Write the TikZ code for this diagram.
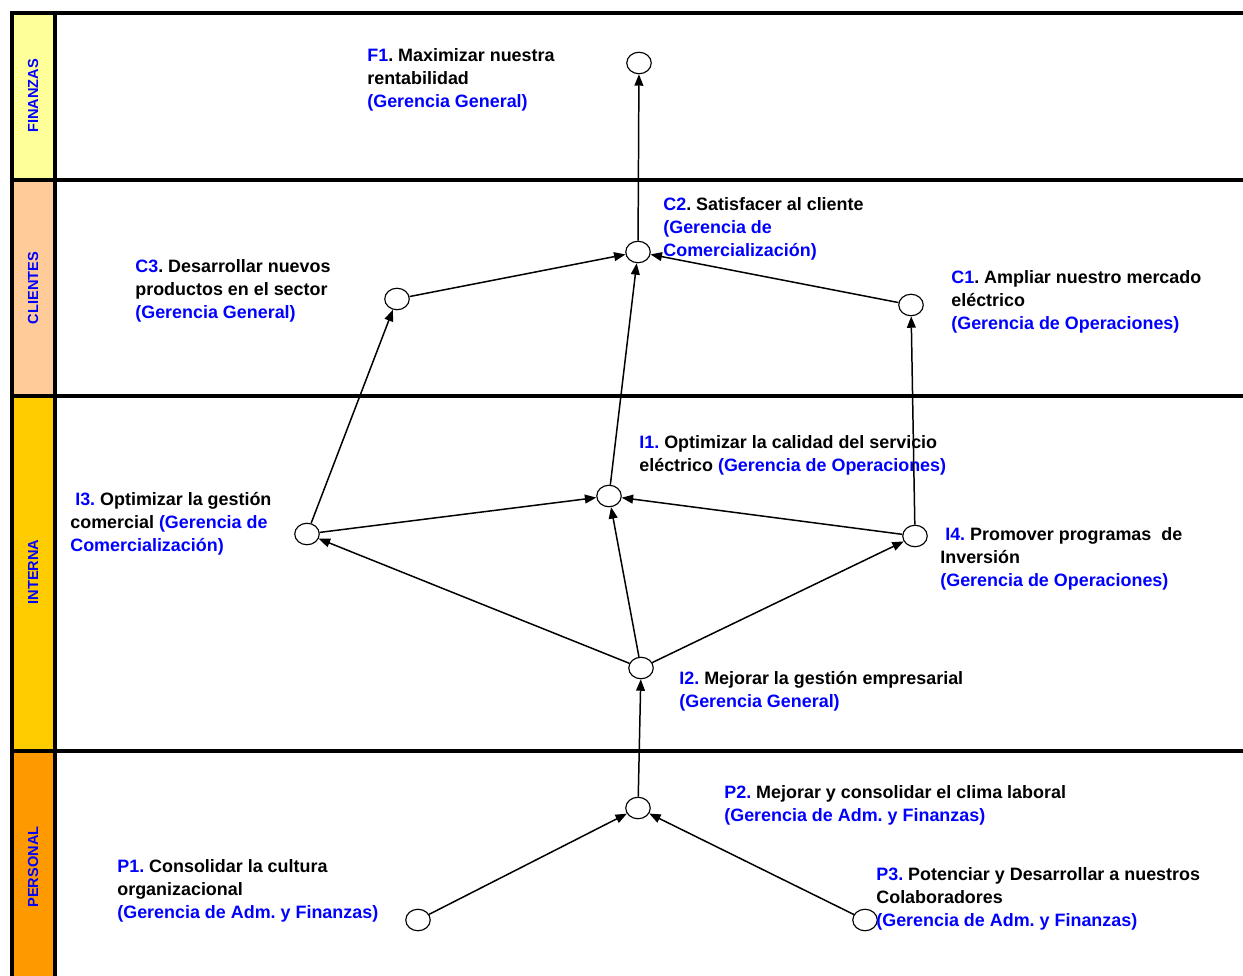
\documentclass[tikz,border=0pt]{standalone}
\usepackage{fontspec}
\setmainfont{Liberation Sans}
\usetikzlibrary{shapes.geometric,arrows.meta}
\frenchspacing

\definecolor{finz}{HTML}{FFFF99}
\definecolor{clie}{HTML}{FFCC99}
\definecolor{inte}{HTML}{FFCC00}
\definecolor{pers}{HTML}{FF9900}
\newcommand{\gtxt}[1]{\textcolor{blue}{#1}}

\tikzset{
  obj/.style={draw, ellipse, minimum width=0.49cm, minimum height=0.43cm, inner sep=0pt, line width=0.65pt, fill=white},
  lbl/.style={anchor=north west, align=left, inner sep=0pt, font=\fontsize{10.2}{13.1}\selectfont\bfseries},
  link/.style={line width=0.85pt, -{Triangle[length=6.5pt,width=5pt]}},
  lane/.style={rotate=90, text=blue, font=\fontsize{8.3}{9}\selectfont\bfseries},
  sepline/.style={line width=2.3pt}
}

\begin{document}
\begin{tikzpicture}[x=0.02cm,y=-0.02cm]
\useasboundingbox (0,0) rectangle (1243,976);

% lanes
\fill[finz] (12,13) rectangle (55,180);
\fill[clie] (12,180) rectangle (55,396);
\fill[inte] (12,396) rectangle (55,751);
\fill[pers] (12,751) rectangle (55,990);
\draw[sepline] (10,13) -- (1260,13);
\draw[sepline] (12,180) -- (1260,180);
\draw[sepline] (12,396) -- (1260,396);
\draw[sepline] (12,751) -- (1260,751);
\draw[sepline] (12,11) -- (12,990);
\draw[sepline] (55,11) -- (55,990);

\node[lane] (finanzas) at (33,96) {FINANZAS};
\node[lane] (clientes) at (33,288) {CLIENTES};
\node[lane] (interna) at (33,572) {INTERNA};
\node[lane] (personal) at (33,867) {PERSONAL};

% objectives
\node[obj] (f1) at (639,63) {};
\node[obj] (c2) at (638,252) {};
\node[obj] (c3) at (397,299) {};
\node[obj] (c1) at (911,305) {};
\node[obj] (i1) at (609,496) {};
\node[obj] (i3) at (307,534) {};
\node[obj] (i4) at (915,536) {};
\node[obj] (i2) at (641,668) {};
\node[obj] (p2) at (638,808) {};
\node[obj] (p1) at (418,920) {};
\node[obj] (p3) at (865,920) {};

\node[lbl] (f1txt) at (367,48) {\gtxt{F1}. Maximizar nuestra\\rentabilidad\\\gtxt{(Gerencia General)}};
\node[lbl] (c2txt) at (663,197) {\gtxt{C2}. Satisfacer al cliente\\\gtxt{(Gerencia de}\\\gtxt{Comercialización)}};
\node[lbl] (c3txt) at (135,259) {\gtxt{C3}. Desarrollar nuevos\\productos en el sector\\\gtxt{(Gerencia General)}};
\node[lbl] (c1txt) at (951,270) {\gtxt{C1}. Ampliar nuestro mercado\\eléctrico\\\gtxt{(Gerencia de Operaciones)}};
\node[lbl] (i1txt) at (639,435) {\gtxt{I1.} Optimizar la calidad del servicio\\eléctrico \gtxt{(Gerencia de Operaciones)}};
\node[lbl] (i3txt) at (70,492) {\hspace*{2.8pt}\gtxt{I3.} Optimizar la gestión\\comercial \gtxt{(Gerencia de}\\\gtxt{Comercialización)}};
\node[lbl] (i4txt) at (940,527) {\hspace*{2.8pt}\gtxt{I4.} Promover programas\ \ de\\Inversión\\\gtxt{(Gerencia de Operaciones)}};
\node[lbl] (i2txt) at (679,671) {\gtxt{I2.} Mejorar la gestión empresarial\\\gtxt{(Gerencia General)}};
\node[lbl] (p2txt) at (724,785) {\gtxt{P2.} Mejorar y consolidar el clima laboral\\\gtxt{(Gerencia de Adm. y Finanzas)}};
\node[lbl] (p1txt) at (117,859) {\gtxt{P1.} Consolidar la cultura\\organizacional\\\gtxt{(Gerencia de Adm. y Finanzas)}};
\node[lbl] (p3txt) at (876,867) {\gtxt{P3.} Potenciar y Desarrollar a nuestros\\Colaboradores\\\gtxt{(Gerencia de Adm. y Finanzas)}};

% links
\draw[link] (c2) -- (f1);
\draw[link] (c3) -- (c2);
\draw[link] (c1) -- (c2);
\draw[link] (i1) -- (c2);
\draw[link] (i3) -- (c3);
\draw[link] (i4) -- (c1);
\draw[link] (i3) -- (i1);
\draw[link] (i4) -- (i1);
\draw[link] (i2) -- (i1);
\draw[link] (i2) -- (i3);
\draw[link] (i2) -- (i4);
\draw[link] (p2) -- (i2);
\draw[link] (p1) -- (p2);
\draw[link] (p3) -- (p2);
\end{tikzpicture}
\end{document}
